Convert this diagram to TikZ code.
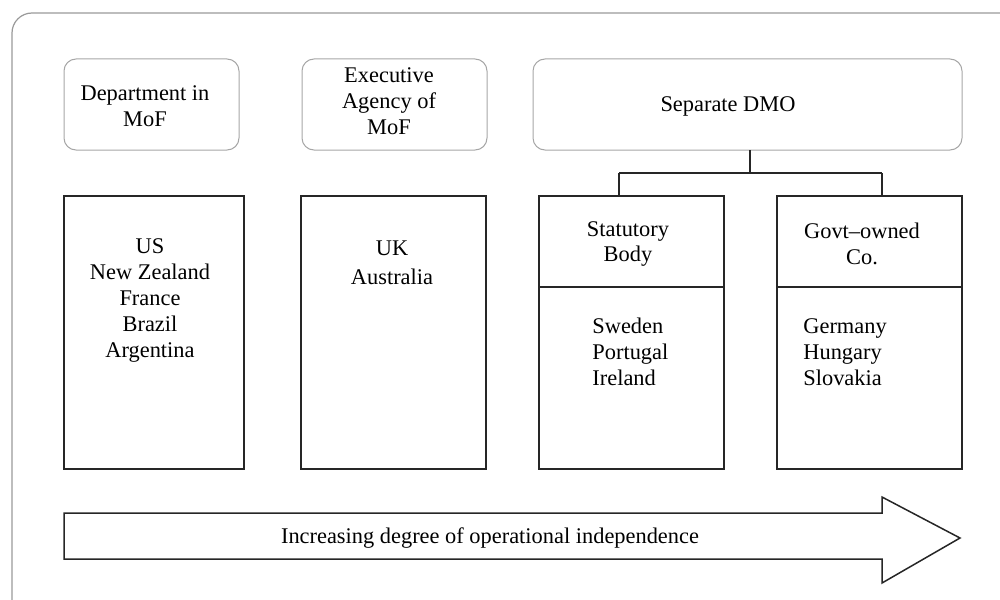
\documentclass[tikz,border=0pt]{standalone}
\usepackage{fontspec}
\setmainfont{Liberation Serif}
\begin{document}
\begin{tikzpicture}[x=0.5pt,y=-0.5pt,
  every node/.style={font=\fontsize{11.2}{13}\selectfont, inner sep=0pt},
  topbox/.style={draw=black!35, line width=0.5pt, rounded corners=6pt, minimum height=45.5pt},
  listbox/.style={draw=black!85, line width=0.75pt, minimum height=136.5pt, minimum width=92.5pt},
  lbl/.style={align=center},
  conn/.style={draw=black!85, line width=0.75pt}]
\useasboundingbox (0,0) rectangle (1000,599);
% outer frame
\draw[black!40, line width=0.6pt, rounded corners=10pt] (12,13) rectangle (1020,620);
% top rounded boxes
\node[topbox, minimum width=87.5pt] (dep) at (151.5,104.5) {};
\node[topbox, minimum width=92.5pt] (exe) at (394.5,104.5) {};
\node[topbox, minimum width=214.5pt] (dmo) at (747.5,104.5) {};
\node[lbl] (tdep) at (145,106) {Department in\\MoF};
\node[lbl] (texe) at (389,101) {Executive\\Agency of\\MoF};
\node[lbl] (tdmo) at (728,106) {Separate DMO};
% list boxes
\node[listbox, minimum width=90pt] (b1) at (154,332.5) {};
\node[listbox] (b2) at (393.5,332.5) {};
\node[listbox] (b3) at (631.5,332.5) {};
\node[listbox] (b4) at (869.5,332.5) {};
\draw[conn] (b3.west |- 0,287) -- (b3.east |- 0,287);
\draw[conn] (b4.west |- 0,287) -- (b4.east |- 0,287);
% connectors
\coordinate (jt) at (750,150);
\coordinate (jm) at (750,173);
\coordinate (jl) at (619,196);
\coordinate (jr) at (882,196);
\draw[conn] (jt) -- (jm);
\draw[conn] (jl |- jm) -- (jr |- jm);
\draw[conn] (jl |- jm) -- (jl);
\draw[conn] (jr |- jm) -- (jr);
% texts
\node[lbl] (t1) at (150,300) {US\\New Zealand\\France\\Brazil\\Argentina};
\node[lbl] (t2) at (392,263) {UK\\[1.5pt]Australia};
\node[lbl] (t3) at (628,244) {Statutory\\Body};
\node[lbl] (t4) at (862,244) {Govt--owned\\Co.};
\node[align=left, anchor=west] (t5) at (592,352) {Sweden\\Portugal\\Ireland};
\node[align=left, anchor=west] (t6) at (803,352) {Germany\\Hungary\\Slovakia};
% arrow
\draw[black!85, line width=0.75pt, fill=white, line join=miter]
  (64,513) -- (882,513) -- (882,497) -- (960,538) -- (882,583) -- (882,559) -- (64,559) -- cycle;
\node (tarr) at (490,538) {Increasing degree of operational independence};
\end{tikzpicture}
\end{document}
